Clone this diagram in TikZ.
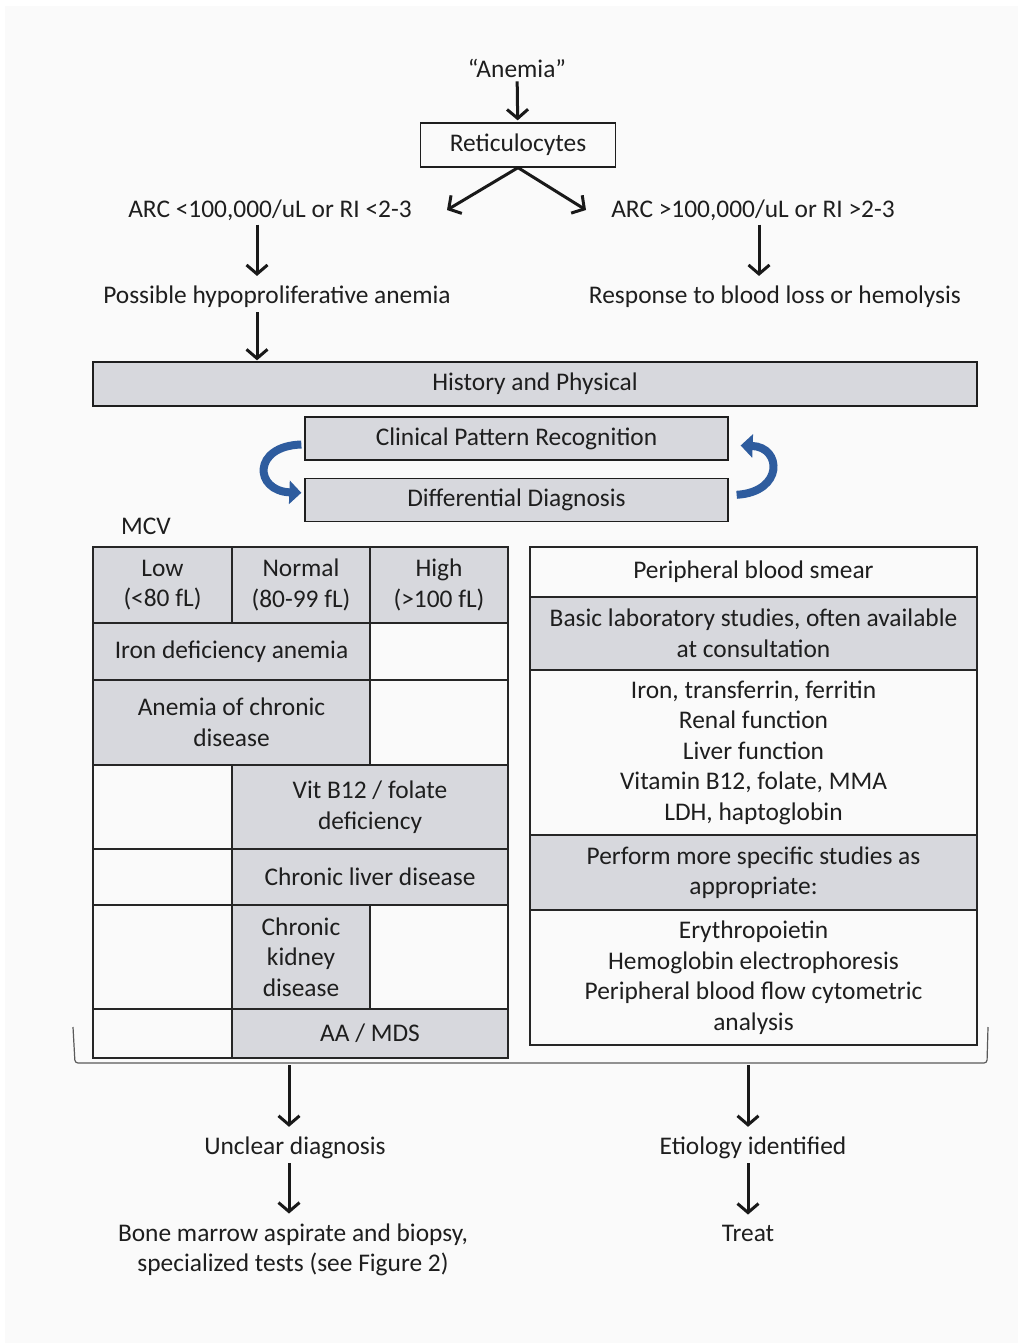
\documentclass[tikz,border=0pt]{standalone}
\usepackage{fontspec}
\setmainfont{Carlito}
\usetikzlibrary{positioning,arrows.meta,calc}
\definecolor{cellgray}{RGB}{215,216,221}
\definecolor{curlblue}{RGB}{46,92,158}
\definecolor{inkgray}{RGB}{30,30,30}
\definecolor{paper}{RGB}{250,250,250}

\begin{document}
\begin{tikzpicture}[x=1pt, y=-1pt,
    every node/.style={font=\fontsize{25.4}{30.5}\selectfont, text=inkgray, align=center, inner sep=4pt},
    box/.style={draw=inkgray, line width=1.3pt, inner sep=0pt},
    shadebox/.style={box, fill=cellgray},
    cell/.style={draw=black!85, line width=1.8pt, inner sep=0pt, outer sep=0pt},
    gcell/.style={cell, fill=cellgray},
    arr/.style={-{Straight Barb[length=9pt,width=21pt]}, line width=3pt, black!90, shorten >=6pt},
    curl/.style={-{Triangle[length=12pt,width=23pt]}, line width=8pt, curlblue}]

    \useasboundingbox (0,0) rectangle (1018,1343);
    \fill[paper] (5,6) rectangle (1018,1343);

    \node (anemia) at (517,68) {“Anemia”};
    \node[box, minimum width=195pt, minimum height=44pt] (retic) at (518,145) {Reticulocytes};
    \coordinate (lowtip) at (447,210);
    \coordinate (hightip) at (586,210);

    \node (arclo) at (270,210) {ARC <100,000/uL or RI <2-3};
    \node (archi) at (753,210) {ARC >100,000/uL or RI >2-3};
    \node (hypo) at (277,297) {Possible hypoproliferative anemia};
    \node (resp) at (775,297) {Response to blood loss or hemolysis};

    \node[shadebox, minimum width=884pt, minimum height=44pt] (hist) at (535,384) {History and Physical};
    \node[shadebox, minimum width=423pt, minimum height=43pt] (cpr) at (516.5,438.5) {Clinical Pattern Recognition};
    \node[shadebox, minimum width=423pt, minimum height=43pt, below=17pt of cpr] (ddx) {Differential Diagnosis};

    \node (mcv) at (146,526) {MCV};

    % MCV table
    \node[gcell, minimum width=139pt, minimum height=76pt] (low) at (162.5,585) {Low\\(<80 fL)};
    \node[gcell, minimum width=138pt, minimum height=76pt] (normal) at (301,585) {Normal\\(80-99 fL)};
    \node[gcell, minimum width=138pt, minimum height=76pt] (high) at (439,585) {High\\(>100 fL)};
    \node[gcell, minimum width=277pt, minimum height=57pt] (iron) at (231.5,651.5) {Iron deficiency anemia};
    \node[cell, minimum width=138pt, minimum height=57pt] (ironx) at (439,651.5) {};
    \node[gcell, minimum width=277pt, minimum height=85pt] (acd) at (231.5,722.5) {Anemia of chronic\\disease};
    \node[cell, minimum width=138pt, minimum height=85pt] (acdx) at (439,722.5) {};
    \node[cell, minimum width=139pt, minimum height=84pt] (vitx) at (162.5,807) {};
    \node[gcell, minimum width=276pt, minimum height=84pt] (vit) at (370,807) {Vit B12 / folate\\deficiency};
    \node[cell, minimum width=139pt, minimum height=56pt] (liverx) at (162.5,877) {};
    \node[gcell, minimum width=276pt, minimum height=56pt] (liver) at (370,877) {Chronic liver disease};
    \node[cell, minimum width=139pt, minimum height=104pt] (ckdx) at (162.5,957) {};
    \node[gcell, minimum width=138pt, minimum height=104pt] (ckd) at (301,957) {Chronic\\kidney\\disease};
    \node[cell, minimum width=138pt, minimum height=104pt] (ckdy) at (439,957) {};
    \node[cell, minimum width=139pt, minimum height=49pt] (aamdsx) at (162.5,1033.5) {};
    \node[gcell, minimum width=276pt, minimum height=49pt] (aamds) at (370,1033.5) {AA / MDS};

    % studies table
    \node[cell, minimum width=447pt, minimum height=50pt] (smear) at (753.5,572) {Peripheral blood smear};
    \node[gcell, minimum width=447pt, minimum height=73pt] (basic) at (753.5,633.5) {Basic laboratory studies, often available\\at consultation};
    \node[cell, minimum width=447pt, minimum height=165pt] (labs) at (753.5,752.5) {Iron, transferrin, ferritin\\Renal function\\Liver function\\Vitamin B12, folate, MMA\\LDH, haptoglobin};
    \node[gcell, minimum width=447pt, minimum height=75pt] (specific) at (753.5,872.5) {Perform more specific studies as\\appropriate:};
    \node[cell, minimum width=447pt, minimum height=135pt] (special) at (753.5,977.5) {Erythropoietin\\Hemoglobin electrophoresis\\Peripheral blood flow cytometric\\analysis};

    \node (unclear) at (295,1148) {Unclear diagnosis};
    \node (etio) at (753,1148) {Etiology identified};
    \node (bone) at (293,1250) {Bone marrow aspirate and biopsy,\\specialized tests (see Figure 2)};
    \node (treat) at (748,1233) {Treat};

    \coordinate (brk) at (0,1065);
    \draw[black!65, line width=1.2pt, rounded corners=3pt] (73,1027) -- (75,1063) -- (987,1063) -- (988,1027);

    \draw[arr, shorten >=2pt] (anemia) -- (retic);
    \draw[arr, shorten >=0pt] (retic.south) -- (lowtip);
    \draw[arr, shorten >=0pt] (retic.south) -- (hightip);
    \draw[arr] ([xshift=-13pt]arclo.south) -- ([xshift=-20pt]hypo.north);
    \draw[arr] ([xshift=6pt]archi.south) -- ([xshift=-16pt]resp.north);
    \draw[arr, shorten >=1pt] ([xshift=-20pt]hypo.south) -- ([xshift=-20pt]hypo.south |- hist.north);

    \draw[curl] ($(cpr.west)+(-3,6)$) .. controls (252,446) and (254,491) .. ($(ddx.west)+(-3,-7)$);
    \draw[curl] ($(ddx.east)+(8,-5)$) .. controls (784,492) and (782,447) .. ($(cpr.east)+(12,7)$);

    \draw[arr] ([xshift=-6pt]unclear.north |- brk) -- ([xshift=-6pt]unclear.north);
    \draw[arr] ([xshift=-5pt]etio.north |- brk) -- ([xshift=-5pt]etio.north);
    \draw[arr] ([xshift=-6pt]unclear.south) -- ([xshift=-4pt]bone.north);
    \draw[arr] ([xshift=-5pt]etio.south) -- (treat);
\end{tikzpicture}
\end{document}
